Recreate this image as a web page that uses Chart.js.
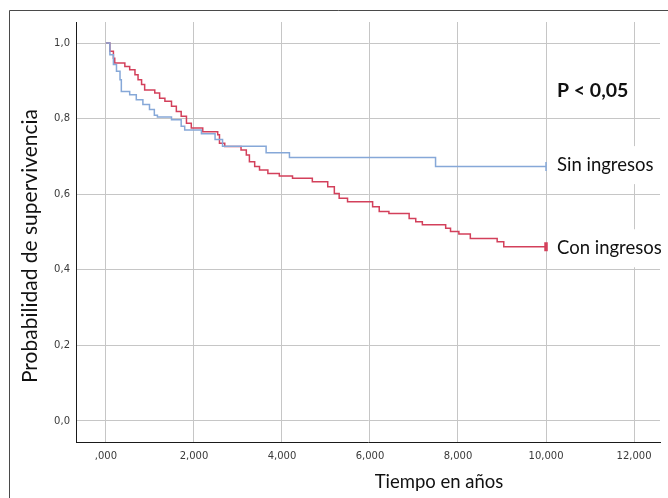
<!DOCTYPE html>
<html>
<head>
<meta charset="utf-8">
<script src="https://cdn.jsdelivr.net/npm/chart.js@4.4.1/dist/chart.umd.min.js"></script>
<style>
  html, body { margin: 0; padding: 0; background: #fff; }
  #wrap { position: relative; width: 668px; height: 498px; }
</style>
</head>
<body>
<div id="wrap"><canvas id="km" width="668" height="498"></canvas></div>
<script>
// Kaplan-Meier: supervivencia segun ingresos

// tiempo (años) y supervivencia, grupo "Sin ingresos"
const sinTimes = [0, 0.09, 0.17, 0.24, 0.32, 0.35, 0.54, 0.69, 0.84, 0.99, 1.10, 1.17, 1.49, 1.71, 1.79, 2.17, 2.48, 2.65, 3.64, 4.17, 7.49, 10.0];
const sinSurv = [1.0, 0.969, 0.943, 0.925, 0.903, 0.872, 0.863, 0.85, 0.837, 0.824, 0.809, 0.804, 0.797, 0.78, 0.77, 0.76, 0.745, 0.727, 0.71, 0.697, 0.673, 0.673];

// grupo "Con ingresos"
const conTimes = [0, 0.09, 0.17, 0.20, 0.43, 0.54, 0.66, 0.73, 0.81, 0.88, 1.11, 1.22, 1.34, 1.49, 1.60, 1.71, 1.83, 1.94, 2.20, 2.54, 2.58, 2.70, 3.07, 3.19, 3.26, 3.38, 3.49, 3.68, 3.94, 4.24, 4.69, 5.04, 5.19, 5.30, 5.49, 6.06, 6.21, 6.43, 6.89, 7.04, 7.19, 7.72, 7.83, 8.02, 8.28, 8.89, 9.04, 10.0];
const conSurv = [1.0, 0.978, 0.96, 0.947, 0.938, 0.929, 0.916, 0.903, 0.89, 0.876, 0.868, 0.854, 0.846, 0.833, 0.819, 0.806, 0.788, 0.775, 0.765, 0.757, 0.735, 0.726, 0.717, 0.704, 0.686, 0.673, 0.664, 0.655, 0.648, 0.642, 0.633, 0.62, 0.602, 0.589, 0.58, 0.567, 0.554, 0.549, 0.536, 0.527, 0.519, 0.51, 0.501, 0.495, 0.483, 0.474, 0.461, 0.461];

// censored cases (end of follow-up)
const sinCensor = [10.0];
const conCensor = [10.0];

const xTicks = [0, 2, 4, 6, 8, 10, 12];
const yTicks = [0, 0.2, 0.4, 0.6, 0.8, 1.0];
const groupNames = ['Sin ingresos', 'Con ingresos'];

const BLUE = '#86a8d8';
const RED = '#d3405b';

function toPoints(times, surv) {
  return times.map((t, i) => ({ x: t, y: surv[i] }));
}
function censorPoints(times, allTimes, surv) {
  return times.map(t => ({ x: t, y: surv[allTimes.indexOf(t)] }));
}

const kmPlugin = {
  id: 'kmDecor',
  beforeDraw(chart) {
    const ctx = chart.ctx;
    ctx.save();
    ctx.fillStyle = '#fff';
    ctx.fillRect(0, 0, chart.width, chart.height);
    // outer frame
    ctx.strokeStyle = '#4a4a4a';
    ctx.lineWidth = 1;
    ctx.beginPath();
    ctx.moveTo(9.5, chart.height);
    ctx.lineTo(9.5, 10.5);
    ctx.lineTo(chart.width, 10.5);
    ctx.stroke();
    ctx.restore();
  },
  afterDatasetsDraw(chart) {
    const { ctx, scales: { x, y } } = chart;
    ctx.save();
    ctx.textBaseline = 'middle';

    // group labels next to the curve ends
    ctx.font = '18.5px Lato';
    const ends = [
      [groupNames[0], sinSurv[sinSurv.length - 1], sinTimes[sinTimes.length - 1], -1.5],
      [groupNames[1], conSurv[conSurv.length - 1], conTimes[conTimes.length - 1], 1.5]
    ];
    ends.forEach(([txt, s, t, dy]) => {
      const tx = x.getPixelForValue(t) + 11;
      const ty = y.getPixelForValue(s) + dy;
      const w = ctx.measureText(txt).width;
      ctx.fillStyle = '#fff';
      ctx.fillRect(tx - 3, ty - 19, w + 8, 38);
      ctx.fillStyle = '#111';
      ctx.fillText(txt, tx, ty);
    });

    ctx.font = 'bold 19.5px Lato';
    ctx.fillStyle = '#111';
    ctx.fillText('P < 0,05', 557, 91);

    // axis titles
    ctx.font = '18.5px Lato';
    ctx.textAlign = 'center';
    ctx.fillText('Tiempo en años', 439, 482);
    ctx.font = '21px Lato';
    ctx.translate(30, 246);
    ctx.rotate(-Math.PI / 2);
    ctx.fillText('Probabilidad de supervivencia', 0, 0);
    ctx.restore();
  }
};

new Chart(document.getElementById('km'), {
  type: 'line',
  data: {
    datasets: [
      {
        label: groupNames[0],
        data: toPoints(sinTimes, sinSurv),
        borderColor: BLUE,
        borderWidth: 1.5,
        stepped: 'before',
        pointRadius: 0,
        fill: false
      },
      {
        label: groupNames[1],
        data: toPoints(conTimes, conSurv),
        borderColor: RED,
        borderWidth: 1.5,
        stepped: 'before',
        pointRadius: 0,
        fill: false
      },
      {
        label: 'censor sin',
        data: censorPoints(sinCensor, sinTimes, sinSurv),
        showLine: false,
        pointStyle: 'line',
        rotation: 90,
        pointRadius: 4.5,
        borderColor: BLUE,
        borderWidth: 1.5
      },
      {
        label: 'censor con',
        data: censorPoints(conCensor, conTimes, conSurv),
        showLine: false,
        pointStyle: 'line',
        rotation: 90,
        pointRadius: 4.5,
        borderColor: RED,
        borderWidth: 3.5
      }
    ]
  },
  options: {
    responsive: false,
    animation: false,
    layout: { padding: { left: 0, right: 6, top: 22, bottom: 0 } },
    plugins: {
      legend: { display: false },
      tooltip: { enabled: false }
    },
    scales: {
      x: {
        type: 'linear',
        min: -0.68,
        max: 12.59,
        afterBuildTicks: s => { s.ticks = xTicks.map(v => ({ value: v })); },
        afterFit: s => { s.height = 56; },
        grid: { color: '#c6c6c6', drawTicks: false },
        border: { color: '#1a1a1a', width: 1 },
        ticks: {
          padding: 8,
          color: '#3a3a3a',
          font: { family: 'DejaVu Sans', size: 10 },
          maxRotation: 0,
          callback: v => v === 0 ? ',000' : v.toFixed(3).replace('.', ',')
        }
      },
      y: {
        type: 'linear',
        min: -0.0556,
        max: 1.0556,
        afterBuildTicks: s => { s.ticks = yTicks.map(v => ({ value: v })); },
        afterFit: s => { s.width = 76; },
        grid: { color: '#c6c6c6', drawTicks: false },
        border: { color: '#1a1a1a', width: 1 },
        ticks: {
          padding: 6,
          color: '#3a3a3a',
          font: { family: 'DejaVu Sans', size: 10 },
          callback: v => v.toFixed(1).replace('.', ',')
        }
      }
    }
  },
  plugins: [kmPlugin]
});
</script>
</body>
</html>
